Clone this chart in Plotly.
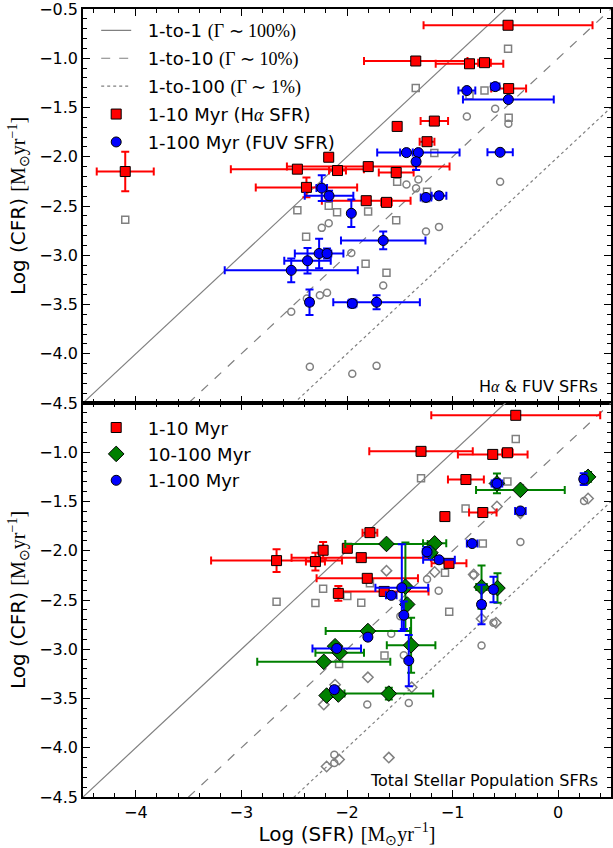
import plotly.graph_objects as go
from plotly.subplots import make_subplots

# ---------------- data: top panel (H-alpha & FUV SFRs) ----------------
ha_x = [-4.10, -0.475, -1.349, -0.84, -0.698, -0.469, -1.173, -1.525, -1.242, -1.799,
        -2.47, -2.173, -2.09, -1.534, -2.384, -1.818, -1.626]
ha_y = [-2.15, -0.665, -1.028, -1.056, -1.045, -1.308, -1.638, -1.692, -1.847, -2.10,
        -2.126, -2.005, -2.14, -2.16, -2.311, -2.446, -2.463]
ha_xerr = [0.27, 0.80, 0.49, 0.32, 0.06, 0.165, 0.13, 0.03, 0.07, 0.77,
           0.63, 0.04, 0.08, 0.165, 0.48, 0.42, 0.05]
ha_yerr = [0.20, 0.0, 0.0, 0.0, 0.0, 0.0, 0.0, 0.0, 0.03, 0.0,
           0.0, 0.03, 0.0, 0.0, 0.10, 0.0, 0.0]

fuv_x = [-0.597, -0.865, -0.472, -1.437, -1.324, -1.346, -0.55, -1.252, -1.129, -1.959,
         -1.657, -1.95, -1.72, -2.239, -2.17, -2.264, -2.189, -2.374, -2.528, -2.355]
fuv_y = [-1.288, -1.328, -1.419, -1.958, -1.958, -2.05, -1.955, -2.413, -2.396, -2.574,
         -2.85, -3.49, -3.477, -2.318, -2.396, -2.982, -2.982, -3.056, -3.153, -3.477]
fuv_xerr = [0.04, 0.08, 0.43, 0.06, 0.39, 0.03, 0.12, 0.05, 0.07, 0.0,
            0.40, 0.04, 0.41, 0.05, 0.23, 0.23, 0.04, 0.22, 0.63, 0.03]
fuv_yerr = [0.03, 0.0, 0.0, 0.0, 0.0, 0.085, 0.0, 0.03, 0.03, 0.14,
            0.09, 0.04, 0.07, 0.13, 0.05, 0.15, 0.05, 0.13, 0.12, 0.13]

top_gsq_x = [-4.10, -0.475, -1.349, -0.698, -0.84, -0.469, -1.173, -1.525, -1.242, -1.80,
             -2.47, -2.173, -2.094, -1.534, -2.387, -1.824, -1.626, -1.252]
top_gsq_y = [-2.64, -0.904, -1.301, -1.328, -1.379, -1.604, -1.962, -2.254, -2.355, -2.557,
             -2.544, -2.497, -2.564, -2.645, -2.813, -3.086, -3.177, -2.422]

top_gci_x = [-0.597, -0.865, -0.472, -1.437, -1.324, -1.346, -0.55, -1.252, -1.129, -1.959,
             -1.657, -1.95, -1.72, -2.239, -2.173, -2.257, -2.189, -2.38, -2.528, -2.352]
top_gci_y = [-1.513, -1.591, -1.665, -2.281, -2.231, -2.321, -2.254, -2.759, -2.712, -2.978,
             -3.308, -4.204, -4.123, -2.722, -2.675, -3.406, -3.38, -3.44, -3.574, -4.133]

# ---------------- data: bottom panel (total stellar population SFRs) ----------------
b10_x = [-0.402, -1.299, -0.62, -0.481, -0.874, -0.714, -1.073, -1.783, -1.997, -1.865,
         -1.034, -2.667, -2.299, -2.226, -1.808, -1.648, -2.082]
b10_y = [-0.625, -0.991, -1.022, -1.005, -1.277, -1.612, -1.653, -1.816, -1.975, -2.07,
         -2.128, -2.10, -2.11, -1.995, -2.28, -2.413, -2.433]
b10_xerr = [0.80, 0.49, 0.33, 0.05, 0.17, 0.13, 0.03, 0.07, 0.03, 0.66,
            0.165, 0.62, 0.09, 0.03, 0.48, 0.42, 0.03]
b10_yerr = [0.0, 0.0, 0.0, 0.0, 0.0, 0.0, 0.03, 0.0, 0.0, 0.0,
            0.0, 0.115, 0.09, 0.085, 0.0, 0.0, 0.075]

b100_x = [-0.358, 0.283, -0.58, -1.626, -1.17, -1.447, -1.43, -0.726, -0.575, -1.393,
          -1.802, -2.113, -2.069, -2.22, -2.193, -2.082, -1.604, -1.21]
b100_y = [-1.382, -1.25, -1.317, -1.931, -1.925, -2.365, -2.545, -2.369, -2.379, -2.959,
          -2.815, -2.969, -3.036, -3.128, -3.47, -3.46, -3.45, -2.02]
b100_xerr = [0.42, 0.03, 0.03, 0.39, 0.11, 0.03, 0.03, 0.05, 0.03, 0.23,
             0.40, 0.03, 0.23, 0.63, 0.03, 0.03, 0.42, 0.03]
b100_yerr = [0.0, 0.05, 0.10, 0.0, 0.0, 0.45, 0.03, 0.22, 0.15, 0.28,
             0.03, 0.03, 0.0, 0.03, 0.03, 0.03, 0.06, 0.03]

b1100_x = [-0.58, 0.242, -0.358, -0.815, -1.242, -1.129, -1.481, -1.581, -0.613, -0.726,
           -1.462, -1.415, -1.802, -2.097, -2.12]
b1100_y = [-1.317, -1.273, -1.596, -1.927, -2.011, -2.092, -2.375, -2.453, -2.393, -2.545,
           -2.654, -3.115, -2.877, -2.992, -3.41]
b1100_xerr = [0.05, 0.03, 0.05, 0.05, 0.04, 0.15, 0.25, 0.05, 0.03, 0.03,
              0.0, 0.0, 0.0, 0.23, 0.03]
b1100_yerr = [0.04, 0.06, 0.0, 0.0, 0.05, 0.0, 0.44, 0.0, 0.13, 0.20,
              0.14, 0.26, 0.03, 0.0, 0.03]

bot_gsq_x = [-2.667, -2.299, -2.226, -1.997, -0.402, -1.299, -0.481, -0.877, -0.714, -1.072,
             -1.865, -1.032, -1.645, -2.075, -1.783]
bot_gsq_y = [-2.517, -2.53, -2.385, -2.46, -0.866, -1.263, -1.297, -1.571, -1.927, -2.223,
             -2.528, -2.619, -3.063, -3.15, -2.33]

bot_gci_x = [-0.358, -0.802, -1.132, -1.242, 0.245, -1.581, -1.462, -1.808, -1.415, -0.726,
             -0.613, -2.12, -2.12, -1.495]
bot_gci_y = [-1.911, -2.247, -2.406, -2.29, -1.494, -2.843, -3.06, -3.562, -3.545, -2.963,
             -2.73, -4.07, -4.155, -2.664]

bot_gdi_x = [-1.626, -1.17, 0.283, -0.58, -1.802, -1.387, -0.726, -0.59, -1.604, -2.075,
             -2.193, -2.113, -2.22, -0.358, -0.80]
bot_gdi_y = [-2.202, -2.216, -1.47, -1.551, -3.285, -3.386, -2.69, -2.73, -4.1, -4.12,
             -4.19, -3.36, -3.562, -1.62, -2.24]

# reference lines: CFR = SFR * Gamma
line_x = [-4.5, 0.5]
gamma_offsets = [0.0, -1.0, -2.0]
SERIF = 'font-family:Liberation Serif'
line_names = ['1-to-1 <span style="%s">(Γ ∼ 100%%)</span>' % SERIF,
              '1-to-10 <span style="%s">(Γ ∼ 10%%)</span>' % SERIF,
              '1-to-100 <span style="%s">(Γ ∼ 1%%)</span>' % SERIF]
line_dash = ['solid', 'dash', 'dot']

RED = '#ff0000'
BLUE = '#0000ff'
GREEN = '#008000'
GRAY = '#808080'
PAD = '\u00a0\u00a0'

fig = make_subplots(rows=2, cols=1, shared_xaxes=False, vertical_spacing=0.0)

def gray_open(x, y, symbol, size, row):
    fig.add_trace(go.Scatter(x=x, y=y, mode='markers', showlegend=False,
                             marker=dict(symbol=symbol, size=size, color=GRAY,
                                         line=dict(color=GRAY, width=1.5))),
                  row=row, col=1)

def lines(row, legend):
    for off, name, dash in zip(gamma_offsets, line_names, line_dash):
        fig.add_trace(go.Scatter(x=line_x, y=[v + off for v in line_x], mode='lines',
                                 name=PAD + name, showlegend=(row == 1), legend=legend,
                                 legendgroup=name + str(row),
                                 line=dict(color=GRAY, width=1.2, dash=dash)),
                      row=row, col=1)

def filled(x, y, xe, ye, color, symbol, size, name, row, legend):
    fig.add_trace(go.Scatter(x=x, y=y, mode='markers', name=PAD + name, legend=legend,
                             legendgroup=name,
                             marker=dict(symbol=symbol, size=size, color=color,
                                         line=dict(color='black', width=1)),
                             error_x=dict(type='data', array=xe, color=color, thickness=2, width=4),
                             error_y=dict(type='data', array=ye, color=color, thickness=2, width=4)),
                  row=row, col=1)

# top panel
lines(1, 'legend')
gray_open(top_gsq_x, top_gsq_y, 'square-open', 7, 1)
gray_open(top_gci_x, top_gci_y, 'circle-open', 7, 1)
filled(ha_x, ha_y, ha_xerr, ha_yerr, RED, 'square', 10,
       '1-10 Myr (H<span style="%s"><i>α</i></span> SFR)' % SERIF, 1, 'legend')
filled(fuv_x, fuv_y, fuv_xerr, fuv_yerr, BLUE, 'circle', 10, '1-100 Myr (FUV SFR)', 1, 'legend')

# bottom panel
lines(2, 'legend2')
gray_open(bot_gsq_x, bot_gsq_y, 'square-open', 7, 2)
gray_open(bot_gci_x, bot_gci_y, 'circle-open', 7, 2)
gray_open(bot_gdi_x, bot_gdi_y, 'diamond-open', 8, 2)
filled(b10_x, b10_y, b10_xerr, b10_yerr, RED, 'square', 10, '1-10 Myr', 2, 'legend2')
filled(b100_x, b100_y, b100_xerr, b100_yerr, GREEN, 'diamond', 12, '10-100 Myr', 2, 'legend2')
filled(b1100_x, b1100_y, b1100_xerr, b1100_yerr, BLUE, 'circle', 10, '1-100 Myr', 2, 'legend2')

TICKFONT = dict(family='DejaVu Sans', size=16, color='black')
TITLEFONT = dict(family='DejaVu Sans', size=20, color='black')
axis_common = dict(range=[-4.5, 0.5], showline=True, linecolor='black', linewidth=1.5,
                   mirror='allticks', ticks='inside', ticklen=7, tickwidth=1.2, tickcolor='black',
                   showgrid=False, zeroline=False, dtick=1, tick0=0,
                   minor=dict(ticks='inside', ticklen=4, tickwidth=1, tickcolor='black', dtick=0.2, tick0=0),
                   tickfont=TICKFONT, ticklabeloverflow='allow')
yaxis_common = dict(range=[-4.5, -0.5], showline=True, linecolor='black', linewidth=1.5,
                    mirror='allticks', ticks='inside', ticklen=7, tickwidth=1.2, tickcolor='black',
                    showgrid=False, zeroline=False, tickformat='.1f', ticklabeloverflow='allow',
                    minor=dict(ticks='inside', ticklen=4, tickwidth=1, tickcolor='black', dtick=0.1, tick0=0),
                    tickfont=TICKFONT,
                    title=dict(text='Log (CFR) <span style="%s">[M<sub>⊙</sub>yr<sup>−1</sup>]</span>' % SERIF,
                               font=TITLEFONT, standoff=8))

top_ticks = [-0.5, -1.0, -1.5, -2.0, -2.5, -3.0, -3.5, -4.0, -4.5]
bot_ticks = [-1.0, -1.5, -2.0, -2.5, -3.0, -3.5, -4.0, -4.5]

fig.update_xaxes(**axis_common)
fig.update_xaxes(showticklabels=False, row=1, col=1)
fig.update_xaxes(title=dict(text='Log (SFR) <span style="%s">[M<sub>⊙</sub>yr<sup>−1</sup>]</span>' % SERIF,
                            font=TITLEFONT, standoff=4),
                 row=2, col=1)
fig.update_yaxes(**yaxis_common)
fig.update_yaxes(tickvals=top_ticks, domain=[0.5, 1.0], row=1, col=1)
fig.update_yaxes(tickvals=bot_ticks, domain=[0.0, 0.5], row=2, col=1)

fig.add_annotation(text='H<span style="%s"><i>α</i></span> & FUV SFRs' % SERIF,
                   xref='x domain', yref='y domain', x=0.98, y=0.012, xanchor='right', yanchor='bottom',
                   showarrow=False, font=dict(family='DejaVu Sans', size=16, color='black'))
fig.add_annotation(text='Total Stellar Population SFRs',
                   xref='x2 domain', yref='y2 domain', x=0.98, y=0.012, xanchor='right', yanchor='bottom',
                   showarrow=False, font=dict(family='DejaVu Sans', size=16, color='black'))

legend_style = dict(bgcolor='rgba(255,255,255,0)', borderwidth=0, xanchor='left', yanchor='top',
                    font=dict(family='DejaVu Sans', size=18, color='black'),
                    traceorder='grouped', itemwidth=30)
fig.update_layout(
    width=613, height=848, margin=dict(l=83, r=0, t=8, b=51),
    plot_bgcolor='white', paper_bgcolor='white',
    legend=dict(x=0.025, y=0.996, tracegroupgap=1.5, **legend_style),
    legend2=dict(x=0.025, y=0.492, tracegroupgap=0, **legend_style),
)

fig.write_html('out.html')
